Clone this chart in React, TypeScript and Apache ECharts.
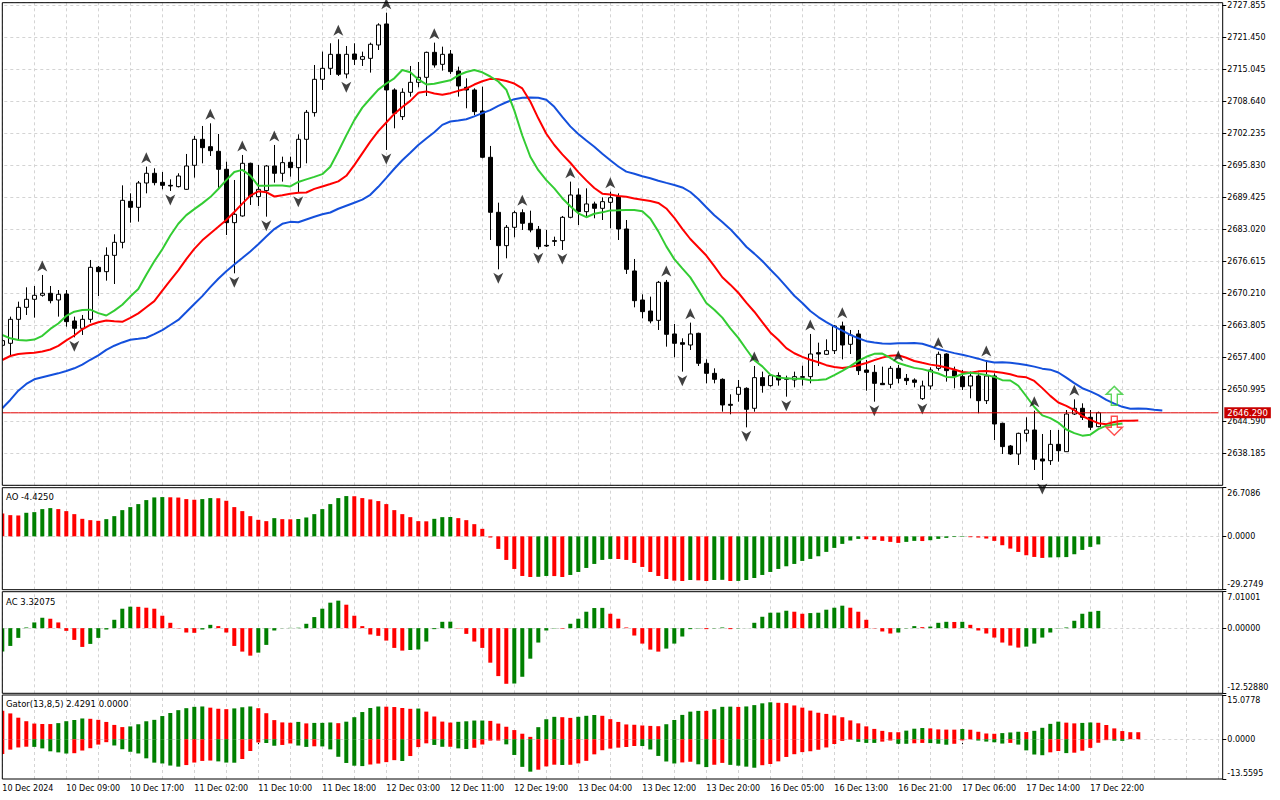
import React, { useEffect, useRef } from "react";
import * as echarts from "echarts";

// ---------- DATA ----------
// XAUUSD H1 candles: [open, high, low, close]
const ohlc: number[][] = [
  [2659.80, 2661.00, 2659.53, 2660.73], [2660.20, 2665.54, 2657.86, 2665.00], [2665.00, 2668.54, 2660.87, 2667.40],
  [2667.40, 2671.41, 2665.87, 2669.01], [2669.01, 2671.67, 2665.34, 2669.81], [2669.81, 2673.88, 2669.54, 2670.21],
  [2670.21, 2671.67, 2668.20, 2668.74], [2668.87, 2670.87, 2665.54, 2670.01], [2670.07, 2670.87, 2663.53, 2664.54],
  [2664.67, 2665.54, 2661.40, 2663.20], [2663.20, 2665.87, 2661.87, 2665.00], [2665.00, 2676.88, 2664.34, 2675.41],
  [2675.41, 2675.68, 2669.67, 2674.54], [2674.54, 2679.41, 2672.74, 2677.81], [2677.81, 2682.02, 2672.07, 2680.41],
  [2680.41, 2691.82, 2679.21, 2688.82], [2688.62, 2690.22, 2684.35, 2687.42], [2687.42, 2692.69, 2684.55, 2692.29],
  [2692.29, 2695.56, 2690.22, 2694.23], [2694.23, 2695.23, 2691.82, 2692.36], [2692.42, 2694.49, 2691.02, 2691.82],
  [2691.82, 2693.02, 2690.69, 2691.69], [2691.56, 2694.23, 2691.40, 2693.69], [2691.02, 2698.10, 2690.90, 2695.69],
  [2695.83, 2701.70, 2693.36, 2701.03], [2701.03, 2703.70, 2696.23, 2699.36], [2699.56, 2704.23, 2697.70, 2698.76],
  [2698.63, 2702.10, 2691.22, 2695.03], [2695.03, 2696.56, 2681.88, 2684.35], [2684.35, 2692.89, 2674.21, 2686.02],
  [2685.69, 2697.90, 2685.55, 2696.23], [2696.23, 2696.36, 2687.89, 2689.56], [2689.56, 2695.89, 2687.69, 2691.02],
  [2690.76, 2695.89, 2685.55, 2695.69], [2695.69, 2699.90, 2692.36, 2694.23], [2694.23, 2697.56, 2692.56, 2696.36],
  [2696.43, 2697.56, 2693.56, 2695.36], [2695.36, 2702.03, 2690.36, 2701.03], [2701.03, 2706.90, 2696.23, 2706.44],
  [2706.37, 2715.91, 2705.57, 2713.04], [2713.04, 2718.58, 2710.91, 2715.24], [2715.24, 2720.25, 2713.91, 2718.04],
  [2718.04, 2721.05, 2713.71, 2714.04], [2714.11, 2719.71, 2713.24, 2718.04], [2718.11, 2720.25, 2715.91, 2717.04],
  [2717.04, 2718.58, 2715.71, 2717.58], [2717.24, 2720.38, 2714.38, 2720.05], [2719.91, 2724.25, 2718.91, 2723.92],
  [2724.12, 2726.38, 2698.90, 2710.91], [2710.91, 2711.24, 2703.23, 2706.24], [2705.57, 2711.24, 2704.90, 2710.44],
  [2710.44, 2715.71, 2709.57, 2712.44], [2712.44, 2716.51, 2711.44, 2713.44], [2713.44, 2718.58, 2709.70, 2718.44],
  [2718.44, 2720.38, 2715.38, 2715.91], [2716.04, 2719.58, 2714.78, 2718.04], [2718.11, 2718.91, 2714.11, 2714.58],
  [2714.71, 2715.58, 2709.57, 2711.71], [2711.44, 2713.24, 2707.24, 2710.91], [2710.91, 2711.24, 2705.90, 2706.57],
  [2706.70, 2711.57, 2697.23, 2697.43], [2697.43, 2699.70, 2680.88, 2686.42], [2686.42, 2688.35, 2675.01, 2679.75],
  [2679.75, 2683.88, 2677.21, 2683.42], [2683.42, 2686.75, 2681.42, 2686.35], [2686.35, 2687.02, 2682.88, 2684.22],
  [2684.22, 2686.75, 2682.42, 2682.88], [2683.02, 2683.68, 2679.01, 2679.55], [2679.81, 2682.88, 2679.48, 2679.68],
  [2680.75, 2681.55, 2679.68, 2680.61], [2680.75, 2685.69, 2678.88, 2685.42], [2685.42, 2692.56, 2685.22, 2689.89],
  [2689.89, 2691.22, 2683.88, 2686.55], [2686.55, 2691.22, 2685.55, 2688.09], [2688.09, 2688.55, 2685.22, 2687.22],
  [2687.22, 2689.42, 2684.88, 2688.55], [2688.42, 2690.56, 2683.22, 2689.35], [2689.56, 2690.22, 2680.88, 2683.08],
  [2683.08, 2684.88, 2674.08, 2675.01], [2674.68, 2677.08, 2667.40, 2668.74], [2668.87, 2670.01, 2665.20, 2666.54],
  [2666.67, 2669.54, 2664.20, 2664.67], [2664.80, 2672.68, 2662.87, 2672.41], [2672.41, 2672.88, 2659.53, 2662.00],
  [2662.07, 2664.07, 2657.40, 2660.20], [2660.33, 2661.20, 2654.53, 2660.00], [2659.86, 2664.34, 2658.86, 2662.07],
  [2662.20, 2662.33, 2655.66, 2656.20], [2656.20, 2657.00, 2652.19, 2654.19], [2654.19, 2655.19, 2652.19, 2652.99],
  [2652.99, 2653.19, 2646.52, 2647.86], [2647.99, 2649.99, 2645.99, 2647.79], [2649.99, 2652.86, 2648.52, 2651.39],
  [2651.19, 2651.39, 2643.38, 2646.99], [2647.19, 2655.66, 2646.52, 2653.33], [2653.33, 2654.53, 2650.32, 2651.73],
  [2651.73, 2654.06, 2651.52, 2653.73], [2653.73, 2654.39, 2651.73, 2652.86], [2653.19, 2653.73, 2649.52, 2652.99],
  [2652.86, 2654.53, 2651.39, 2653.53], [2653.53, 2655.73, 2651.73, 2653.39], [2653.53, 2662.07, 2652.19, 2658.06],
  [2658.33, 2660.33, 2655.66, 2658.06], [2658.00, 2661.00, 2657.86, 2658.73], [2658.73, 2663.87, 2658.06, 2663.67],
  [2663.67, 2664.54, 2657.00, 2659.86], [2660.00, 2662.87, 2658.06, 2661.87], [2662.07, 2662.87, 2653.86, 2654.73],
  [2654.86, 2656.86, 2650.72, 2654.39], [2654.39, 2655.86, 2648.52, 2652.19], [2652.19, 2655.53, 2651.86, 2651.92],
  [2651.99, 2655.66, 2651.19, 2655.19], [2655.19, 2655.86, 2652.19, 2653.19], [2653.19, 2654.06, 2651.86, 2652.73],
  [2652.86, 2653.19, 2651.39, 2652.39], [2649.12, 2652.73, 2648.86, 2651.66], [2651.66, 2655.39, 2650.99, 2654.86],
  [2655.19, 2658.53, 2654.73, 2658.00], [2658.06, 2658.20, 2652.53, 2654.73], [2654.73, 2655.53, 2651.19, 2653.66],
  [2653.53, 2654.86, 2650.86, 2651.52], [2651.66, 2654.53, 2649.19, 2653.66], [2653.66, 2654.33, 2646.19, 2648.72],
  [2648.72, 2656.86, 2648.05, 2653.66], [2653.66, 2654.19, 2640.85, 2644.05], [2644.19, 2644.32, 2638.05, 2639.52],
  [2639.65, 2639.85, 2637.85, 2638.05], [2638.05, 2642.32, 2635.85, 2642.18], [2642.18, 2645.39, 2640.52, 2642.85],
  [2642.85, 2646.72, 2634.84, 2636.98], [2637.05, 2642.05, 2632.84, 2636.65], [2636.71, 2642.85, 2635.85, 2639.98],
  [2639.98, 2642.85, 2636.51, 2638.71], [2638.51, 2646.85, 2638.51, 2646.05], [2646.05, 2648.99, 2645.85, 2647.19],
  [2647.19, 2648.19, 2644.85, 2645.39], [2645.39, 2646.85, 2642.85, 2643.39], [2643.52, 2646.52, 2643.39, 2646.29],
];

// Alligator values visible before the first SMMA step
const jawSeed = [2647.19, 2648.86, 2650.72, 2652.06, 2652.99, 2653.39, 2653.79, 2654.19];
const teethSeed = [2656.86, 2657.66, 2658.06, 2658.20, 2658.33];
const lipsSeed = [2661.87, 2661.20, 2660.87];

// Bill Williams fractals (bar indexes)
const upFractals = [5, 18, 26, 30, 34, 42, 48, 54, 65, 71, 76, 83, 86, 94, 101, 105, 112, 117, 123, 129, 134];
const downFractals = [9, 21, 29, 33, 37, 43, 48, 62, 67, 70, 85, 93, 98, 109, 115, 130];

// signal arrows
const signalBar = 139;
const buySignalPrice = 2649.70;
const sellSignalPrice = 2643.69;
const bidPrice = 2646.29;

// Awesome Oscillator
const aoValues = [
  12.57, 11.65, 11.47, 12.94, 13.30, 14.96, 15.51, 14.96, 13.85, 12.20,
  9.63, 8.90, 8.53, 9.45, 11.10, 14.40, 16.06, 17.71, 19.91, 21.38,
  21.56, 21.45, 21.30, 20.46, 20.09, 20.46, 21.01, 20.92, 19.54, 16.06,
  13.85, 11.10, 9.08, 8.35, 10.00, 9.45, 9.36, 9.54, 10.37, 12.20,
  14.96, 17.71, 21.01, 22.11, 22.02, 21.01, 20.28, 19.36, 17.71, 14.40,
  12.20, 10.55, 8.35, 8.26, 9.63, 10.55, 10.64, 10.00, 8.90, 6.70,
  4.13, -0.64, -6.88, -12.94, -17.89, -21.74, -22.30, -22.20, -21.74, -21.80,
  -22.30, -21.19, -19.54, -17.34, -15.14, -12.94, -12.39, -12.44, -12.94, -14.59,
  -16.79, -19.54, -21.74, -23.40, -24.31, -24.50, -23.95, -24.13, -24.50, -23.95,
  -23.86, -24.50, -24.46, -23.95, -22.85, -21.19, -19.54, -17.89, -16.42, -15.14,
  -13.49, -12.39, -10.92, -8.53, -6.33, -4.13, -2.29, -1.38, -1.56, -1.93,
  -2.48, -3.03, -3.58, -3.03, -2.48, -2.57, -2.11, -1.38, -0.83, -0.37,
  -0.28, -0.46, -0.64, -1.19, -2.48, -4.86, -6.70, -8.53, -10.37, -11.29,
  -11.84, -11.56, -11.47, -11.38, -9.82, -7.43, -5.78, -4.425,
];

// Accelerator Oscillator
const acValues = [
  -4.51, -3.42, -1.87, 0.13, 1.10, 2.00, 1.81, 1.10, -0.52, -2.26,
  -3.61, -3.03, -1.87, -0.26, 1.61, 3.74, 4.13, 4.10, 3.93, 3.74,
  2.39, 1.03, -0.06, -0.84, -0.90, -0.26, 0.64, 0.39, -0.84, -3.42,
  -4.51, -5.29, -4.71, -3.22, -0.45, 0.03, 0.06, 0.08, 0.84, 2.13,
  3.74, 4.90, 5.29, 4.51, 2.39, 0.39, -1.22, -1.48, -2.39, -3.80,
  -4.32, -4.20, -4.10, -2.58, -0.19, 1.22, 1.25, -0.06, -1.10, -2.58,
  -3.80, -6.64, -9.22, -10.70, -10.65, -9.35, -5.87, -2.77, -0.45, -0.06,
  -0.10, 0.84, 1.81, 3.16, 3.87, 3.90, 2.77, 1.81, 0.13, -1.42,
  -2.97, -4.13, -4.51, -3.93, -2.97, -1.61, -0.19, -0.06, -0.19, -0.06,
  0.13, -0.19, -0.06, 0.02, 1.03, 2.19, 2.97, 2.99, 3.35, 3.16,
  2.77, 2.90, 2.97, 3.55, 3.93, 4.32, 3.93, 3.16, 1.61, -0.06,
  -0.64, -1.03, -0.84, -0.06, 0.39, 0.19, 0.30, 1.03, 1.22, 1.19,
  1.22, 0.64, -0.45, -1.03, -1.81, -2.77, -3.35, -3.74, -3.55, -2.97,
  -1.81, -0.84, -0.06, 0.13, 1.42, 2.77, 3.16, 3.32075,
];

// colour of the first bar of each histogram (no previous bar to compare with)
const aoFirstUp = false;
const acFirstUp = true;
const gatorUpperFirstUp = false;
const gatorLowerFirstUp = false;

// axis ranges and tick labels
const priceMin = 2631.78;
const priceMax = 2728.375;
const priceStep = 6.405;
const aoRange = { min: -29.2749, max: 26.7086, minText: "-29.2749", zeroText: "0.0000", maxText: "26.7086" };
const acRange = { min: -12.5288, max: 7.01001, minText: "-12.52880", zeroText: "0.00000", maxText: "7.01001" };
const gatorRange = { min: -13.5595, max: 15.0778, minText: "-13.5595", zeroText: "0.0000", maxText: "15.0778" };
const gatorTitleValues = ["2.4291", "0.0000"];

const tradingDays = ["10 Dec", "11 Dec", "12 Dec", "13 Dec", "16 Dec", "17 Dec", "18 Dec"];
const firstLabel = "10 Dec 2024";
const HOURS_PER_DAY = 23; // 01:00 .. 23:00
const SLOTS = 153;
const LABEL_EVERY = 8;
const GRID_EVERY = 4;

// ---------- derived ----------
const N = ohlc.length;
const categories = Array.from({ length: SLOTS }, (_, i) => {
  if (i === 0) return firstLabel;
  const d = tradingDays[Math.floor(i / HOURS_PER_DAY)];
  const h = (i % HOURS_PER_DAY) + 1;
  return `${d} ${String(h).padStart(2, "0")}:00`;
});

function smmaLine(seed: number[], period: number): (number | null)[] {
  const out: (number | null)[] = seed.slice();
  let prev = seed[seed.length - 1];
  for (const [, h, l] of ohlc) {
    const med = (h + l) / 2;
    prev = (prev * (period - 1) + med) / period;
    out.push(prev);
  }
  while (out.length < SLOTS) out.push(null);
  return out;
}
const jaw = smmaLine(jawSeed, 13);
const teeth = smmaLine(teethSeed, 8);
const lips = smmaLine(lipsSeed, 5);

const gatorUpper = categories.map((_, i) =>
  jaw[i] != null && teeth[i] != null ? Math.abs((jaw[i] as number) - (teeth[i] as number)) : null
);
const gatorLower = categories.map((_, i) =>
  teeth[i] != null && lips[i] != null ? -Math.abs((teeth[i] as number) - (lips[i] as number)) : null
);

const GREEN = "#008000";
const RED = "#ff0000";
function colored(vals: (number | null)[], firstUp: boolean, useAbs: boolean) {
  return vals.map((v, i) => {
    if (v == null) return null;
    let up = firstUp;
    if (i > 0 && vals[i - 1] != null) {
      const a = useAbs ? Math.abs(v) : v;
      const b = useAbs ? Math.abs(vals[i - 1] as number) : (vals[i - 1] as number);
      up = a > b;
    }
    return { value: v, itemStyle: { color: up ? GREEN : RED } };
  });
}

const FONT = "DejaVu Sans";
const MAIN = { top: 2.7, height: 482.6 };
const AO = { top: 487.7, height: 102 };
const AC = { top: 591.7, height: 101.6 };
const GT = { top: 695, height: 84 };
const GRID_LEFT = -1.7;
const GRID_W = 1224;
const PLOT_L = 2.3;
const PLOT_R = 1222.7;

function paneAxis(gridIndex: number, r: any, height: number) {
  const scale = height / (r.max - r.min);
  const inset = 5.5 / scale;
  return {
    type: "value",
    gridIndex,
    position: "right",
    min: r.min,
    max: r.max,
    axisLine: { show: false },
    splitLine: { show: false },
    axisTick: { show: true, length: 4, lineStyle: { color: "#000" }, customValues: [r.max, 0, r.min] },
    axisLabel: {
      show: true,
      color: "#000",
      fontFamily: FONT,
      fontSize: 8,
      margin: 5,
      customValues: [r.max - inset, 0, r.min + inset],
      formatter: (v: number) => (v > 0.5 * r.max ? r.maxText : v < 0.5 * r.min ? r.minText : r.zeroText),
    },
  };
}

const gridLineData = (withZero: boolean) => {
  const d: any[] = [];
  for (let i = 0; i < SLOTS; i += GRID_EVERY) d.push({ xAxis: i });
  if (withZero) d.push({ yAxis: 0 });
  return d;
};
function gridSeries(k: number, withZero: boolean) {
  return {
    type: "line",
    xAxisIndex: k,
    yAxisIndex: k,
    data: categories.map(() => null),
    silent: true,
    z: 0,
    markLine: {
      silent: true,
      symbol: "none",
      z: 1,
      animation: false,
      label: { show: false },
      lineStyle: { color: "#d4d4d4", type: [3, 3], width: 1 },
      data: gridLineData(withZero),
    },
  };
}

const upArrowPath = "path://M8,0 L16,8 L11,8 L11,19 L5,19 L5,8 L0,8 Z";
const downArrowPath = "path://M5,0 L11,0 L11,11 L16,11 L8,19 L0,11 L5,11 Z";
const fractalUpPath = "path://M5,0 L10,11 L5,8 L0,11 Z";
const fractalDownPath = "path://M0,0 L5,3 L10,0 L5,11 Z";

function buildOption() {
  const showLabel = (index: number) => index % LABEL_EVERY === 0 && index < N;
  const xAxes = [0, 1, 2, 3].map((k) => ({
    type: "category",
    gridIndex: k,
    data: categories,
    boundaryGap: true,
    axisLine: { show: false },
    splitLine: { show: false },
    axisTick: {
      show: k === 3,
      interval: showLabel,
      alignWithLabel: true,
      length: 5,
      lineStyle: { color: "#000" },
    },
    axisLabel: {
      show: k === 3,
      interval: showLabel,
      align: "left",
      color: "#000",
      fontFamily: FONT,
      fontSize: 8,
      margin: 5,
    },
  }));

  const grids = [MAIN, AO, AC, GT].map((g) => ({
    left: GRID_LEFT,
    width: GRID_W,
    top: g.top,
    height: g.height,
    containLabel: false,
    outerBoundsMode: "none",
  }));

  const lineSeries = (data: any[], color: string) => ({
    type: "line",
    xAxisIndex: 0,
    yAxisIndex: 0,
    data,
    showSymbol: false,
    symbol: "none",
    z: 3,
    lineStyle: { color, width: 2 },
    itemStyle: { color },
    silent: true,
  });

  return {
    animation: false,
    backgroundColor: "#ffffff",
    grid: grids,
    xAxis: xAxes,
    yAxis: [
      {
        type: "value",
        gridIndex: 0,
        position: "right",
        min: priceMin,
        max: priceMax,
        interval: priceStep,
        axisLine: { show: false },
        axisTick: { show: true, length: 4, lineStyle: { color: "#000" } },
        axisLabel: {
          color: "#000",
          fontFamily: FONT,
          fontSize: 8,
          margin: 5,
          showMinLabel: false,
          showMaxLabel: false,
          formatter: (v: number) => v.toFixed(3),
        },
        splitLine: { show: true, lineStyle: { color: "#d4d4d4", type: [3, 3], width: 1 } },
      },
      paneAxis(1, aoRange, AO.height),
      paneAxis(2, acRange, AC.height),
      paneAxis(3, gatorRange, GT.height),
    ],
    series: [
      gridSeries(0, false),
      gridSeries(1, true),
      gridSeries(2, true),
      gridSeries(3, true),
      {
        type: "candlestick",
        xAxisIndex: 0,
        yAxisIndex: 0,
        barWidth: 4,
        z: 2,
        data: ohlc.map(([o, h, l, c]) => [o, c, l, h]),
        itemStyle: {
          color: "#ffffff",
          color0: "#000000",
          borderColor: "#000000",
          borderColor0: "#000000",
          borderWidth: 1,
        },
      },
      {
        // bid price line with its axis label
        type: "line",
        xAxisIndex: 0,
        yAxisIndex: 0,
        data: categories.map(() => bidPrice),
        silent: true,
        showSymbol: false,
        symbol: "none",
        z: 6,
        itemStyle: { color: "#e00000" },
        lineStyle: { color: "#e00000", width: 1 },
        endLabel: {
          show: true,
          distance: 6,
          formatter: () => bidPrice.toFixed(3),
          color: "#ffffff",
          backgroundColor: "#c80000",
          fontFamily: FONT,
          fontSize: 8.5,
          padding: [1, 3, 1, 3],
        },
      },
      lineSeries(jaw, "#1450dc"),
      lineSeries(teeth, "#ff0000"),
      lineSeries(lips, "#33cc33"),
      {
        type: "scatter",
        xAxisIndex: 0,
        yAxisIndex: 0,
        z: 4,
        silent: true,
        symbol: fractalUpPath,
        symbolSize: [10, 11],
        symbolOffset: [0, -9],
        itemStyle: { color: "#111111" },
        data: upFractals.map((i) => [i, ohlc[i][1]]),
      },
      {
        type: "scatter",
        xAxisIndex: 0,
        yAxisIndex: 0,
        z: 4,
        silent: true,
        symbol: fractalDownPath,
        symbolSize: [10, 11],
        symbolOffset: [0, 9],
        itemStyle: { color: "#111111" },
        data: downFractals.map((i) => [i, ohlc[i][2]]),
      },
      {
        type: "scatter",
        xAxisIndex: 0,
        yAxisIndex: 0,
        z: 5,
        silent: true,
        symbol: upArrowPath,
        symbolSize: [16, 19],
        itemStyle: { color: "rgba(255,255,255,0)", borderColor: "#33cc33", borderWidth: 1.5 },
        data: [[signalBar, buySignalPrice]],
      },
      {
        type: "scatter",
        xAxisIndex: 0,
        yAxisIndex: 0,
        z: 5,
        silent: true,
        symbol: downArrowPath,
        symbolSize: [16, 19],
        itemStyle: { color: "rgba(255,255,255,0)", borderColor: "#ff2020", borderWidth: 1.5 },
        data: [[signalBar, sellSignalPrice]],
      },
      {
        type: "bar",
        xAxisIndex: 1,
        yAxisIndex: 1,
        barWidth: 4,
        z: 2,
        silent: true,
        data: colored(aoValues, aoFirstUp, false),
      },
      {
        type: "bar",
        xAxisIndex: 2,
        yAxisIndex: 2,
        barWidth: 4,
        z: 2,
        silent: true,
        data: colored(acValues, acFirstUp, false),
      },
      {
        type: "bar",
        xAxisIndex: 3,
        yAxisIndex: 3,
        barWidth: 4,
        barGap: "-100%",
        z: 2,
        silent: true,
        data: colored(gatorUpper, gatorUpperFirstUp, true),
      },
      {
        type: "bar",
        xAxisIndex: 3,
        yAxisIndex: 3,
        barWidth: 4,
        barGap: "-100%",
        z: 2,
        silent: true,
        data: colored(gatorLower, gatorLowerFirstUp, true),
      },
    ],
    graphic: [
      { type: "rect", z: 99, silent: true, shape: { x: 0, y: 0, width: 2.2, height: 800 }, style: { fill: "#ffffff" } },
      ...[MAIN, AO, AC, GT].map((g) => ({
        type: "rect",
        z: 100,
        silent: true,
        shape: { x: PLOT_L, y: g.top, width: PLOT_R - PLOT_L, height: g.height },
        style: { fill: "none", stroke: "#000000", lineWidth: 1 },
      })),
      {
        type: "text",
        z: 101,
        x: 6,
        y: 496.7,
        silent: true,
        style: { text: `AO ${aoValues[N - 1].toFixed(4)}`, fill: "#000", fontFamily: FONT, fontSize: 8.5, verticalAlign: "middle" },
      },
      {
        type: "text",
        z: 101,
        x: 6,
        y: 601.7,
        silent: true,
        style: { text: `AC ${acValues[N - 1].toFixed(5)}`, fill: "#000", fontFamily: FONT, fontSize: 8.5, verticalAlign: "middle" },
      },
      {
        type: "text",
        z: 101,
        x: 6,
        y: 704.3,
        silent: true,
        style: {
          text: `Gator(13,8,5) ${gatorTitleValues[0]} ${gatorTitleValues[1]}`,
          fill: "#000",
          fontFamily: FONT,
          fontSize: 8.5,
          verticalAlign: "middle",
        },
      },
    ],
  };
}

export default function App() {
  const ref = useRef<HTMLDivElement>(null);
  useEffect(() => {
    document.body.style.margin = "0";
    if (!ref.current) return;
    const chart = echarts.init(ref.current, undefined, { renderer: "svg" });
    chart.setOption(buildOption() as any);
    return () => chart.dispose();
  }, []);
  return <div ref={ref} style={{ position: "absolute", left: 0, top: 0, width: 1280, height: 800, background: "#fff" }} />;
}
